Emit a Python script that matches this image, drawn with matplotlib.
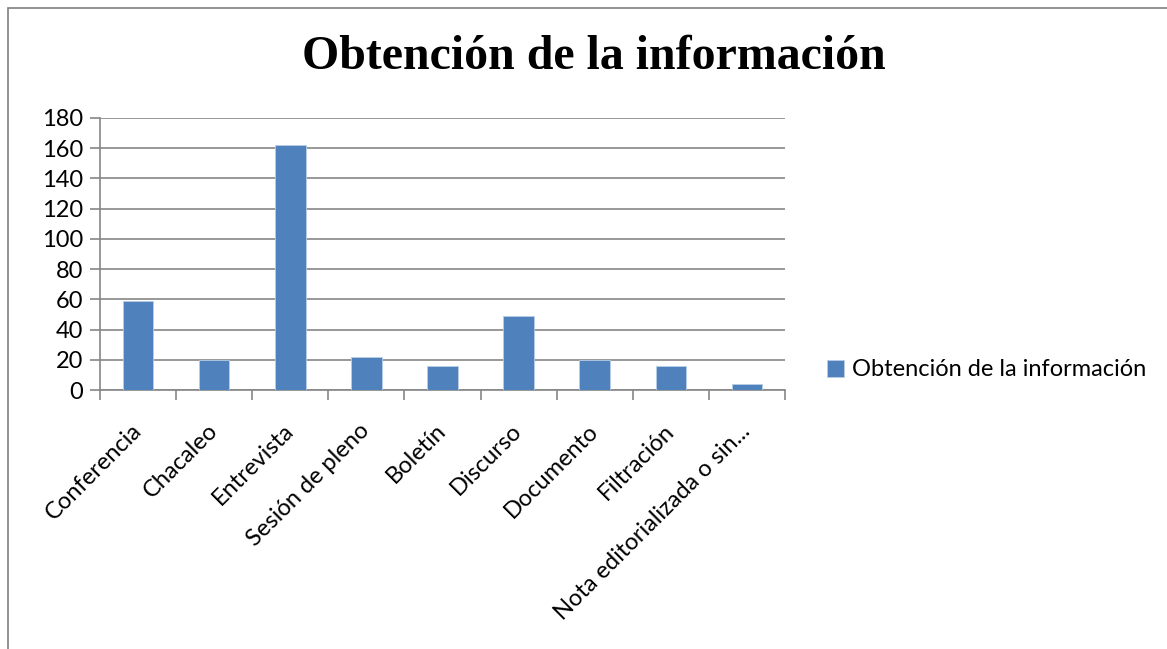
import matplotlib.pyplot as plt
import numpy as np
from matplotlib.patches import Rectangle
from matplotlib.transforms import ScaledTranslation

categories = ["Conferencia", "Chacaleo", "Entrevista", "Sesión de pleno", "Boletín",
              "Discurso", "Documento", "Filtración", "Nota editorializada o sin..."]
values = [59, 20, 162, 22, 16, 49, 20, 16, 4]
series_name = "Obtención de la información"
title = "Obtención de la información"
y_ticks = list(range(0, 181, 20))

barColor = "#4F81BD"
gridColor = "#868686"
labelFont = ["Lato", "DejaVu Sans"]

fig = plt.figure(figsize=(11.67, 6.49), dpi=100)
W, H = 1167, 649

# chart frame
fig.patches.append(Rectangle((8 / W, -0.1), 1.2, 1 - 8 / H + 0.1, transform=fig.transFigure,
                             fill=False, edgecolor="#7f7f7f", linewidth=1.2))

ax = fig.add_axes([100 / W, 1 - 390 / H, (785 - 100) / W, (390 - 118) / H])
index = np.arange(len(categories))
bars = ax.bar(index, values, 0.4, color=barColor, edgecolor="#b9cde5", linewidth=0.6,
              label=series_name, zorder=3)

ax.set_xlim(-0.5, len(categories) - 0.5)
ax.set_ylim(0, 180)
ax.set_yticks(y_ticks)
ax.set_yticklabels([str(v) for v in y_ticks], family=labelFont, fontsize=17)
ax.yaxis.grid(True, color=gridColor, linewidth=1.2, zorder=0)

ax.set_xticks(index)
ax.set_xticklabels(categories, rotation=45, ha="right", va="center", rotation_mode="anchor",
                   family=labelFont, fontsize=17)
shift = ScaledTranslation(11 / 100, 0, fig.dpi_scale_trans)
for lbl in ax.get_xticklabels():
    lbl.set_transform(lbl.get_transform() + shift)
ax.set_xticks(np.arange(-0.5, len(categories)), minor=True)
ax.tick_params(axis="x", which="major", length=0, pad=27)
ax.tick_params(axis="x", which="minor", length=7, width=1.2, color=gridColor, direction="out")
ax.tick_params(axis="y", length=7, width=1.2, color=gridColor, direction="out", pad=5)

for side in ["top", "right"]:
    ax.spines[side].set_visible(False)
for side in ["left", "bottom"]:
    ax.spines[side].set_color(gridColor)
    ax.spines[side].set_linewidth(1.2)

fig.text(594 / W, 1 - 57 / H, title, ha="center", va="center", family="Liberation Serif",
         fontweight="bold", fontsize=34.5)

fig.legend(handles=[bars], labels=[series_name], loc="center left",
           bbox_to_anchor=(806 / W, 1 - 370 / H), frameon=False, handlelength=0.7,
           handleheight=0.7, handletextpad=0.35, prop={"family": labelFont, "size": 17})

plt.savefig("out.png", dpi=100)
